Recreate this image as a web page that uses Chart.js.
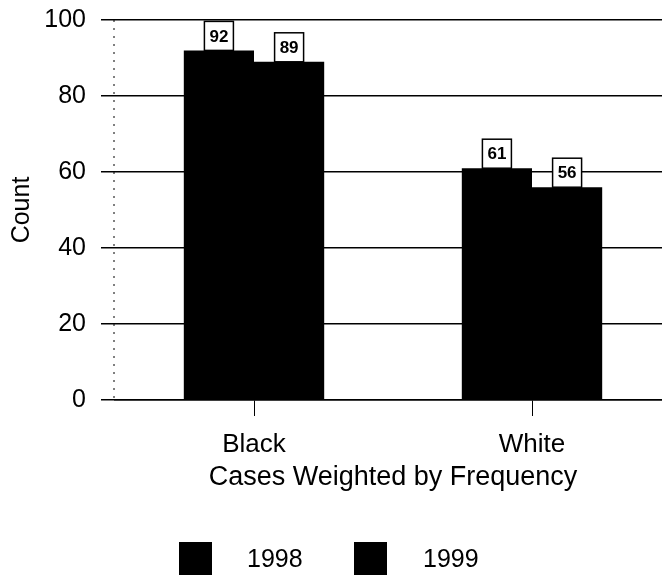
<!DOCTYPE html>
<html lang="en">
<head>
    <meta charset="UTF-8">
    <title>Count by Race</title>
    <script src="https://cdn.jsdelivr.net/npm/chart.js"></script>
    <style>
        html, body { margin: 0; padding: 0; background: #fff; overflow: hidden; }
        #wrap { position: relative; width: 680px; height: 576px; }
        .legend-box { position: absolute; width: 33px; height: 33px; background: #000; top: 542px; }
        .legend-text { position: absolute; top: 544px; line-height: 33px; font: 25px 'Liberation Sans', Arial, sans-serif; color: #000; }
    </style>
</head>
<body>
    <div id="wrap">
        <canvas id="myChart" width="680" height="576"></canvas>
        <div class="legend-box" style="left:179px"></div>
        <span class="legend-text" style="left:247px">1998</span>
        <div class="legend-box" style="left:354px"></div>
        <span class="legend-text" style="left:423px">1999</span>
    </div>

    <script>
        // Chart data
        const categories = ['Black', 'White'];
        const seriesNames = ['1998', '1999'];
        const counts1998 = [92, 61];
        const counts1999 = [89, 56];
        const yTicks = [0, 20, 40, 60, 80, 100];

        const fontFamily = "'Liberation Sans', Arial, sans-serif";

        // Dotted vertical axis line at the left edge of the plot
        const dottedAxis = {
            id: 'dottedAxis',
            beforeDatasetsDraw(chart) {
                const { ctx, chartArea } = chart;
                ctx.save();
                ctx.strokeStyle = '#000';
                ctx.lineWidth = 1;
                ctx.setLineDash([2, 6]);
                ctx.beginPath();
                ctx.moveTo(chartArea.left - 1, chartArea.top);
                ctx.lineTo(chartArea.left - 1, chartArea.bottom);
                ctx.stroke();
                ctx.restore();
            }
        };

        // Boxed value labels above each bar
        const boxedLabels = {
            id: 'boxedLabels',
            afterDatasetsDraw(chart) {
                const ctx = chart.ctx;
                ctx.save();
                chart.data.datasets.forEach((ds, i) => {
                    const meta = chart.getDatasetMeta(i);
                    meta.data.forEach((bar, j) => {
                        const w = 29, h = 29;
                        const x = bar.x - w / 2;
                        const y = bar.y - h;
                        ctx.fillStyle = '#fff';
                        ctx.fillRect(x, y, w, h);
                        ctx.strokeStyle = '#000';
                        ctx.lineWidth = 1.5;
                        ctx.strokeRect(x, y, w, h);
                        ctx.fillStyle = '#000';
                        ctx.font = 'bold 17px ' + fontFamily;
                        ctx.textAlign = 'center';
                        ctx.textBaseline = 'middle';
                        ctx.fillText(String(ds.data[j]), bar.x, y + h / 2 + 1);
                    });
                });
                ctx.restore();
            }
        };

        const ctx = document.getElementById('myChart').getContext('2d');
        const myChart = new Chart(ctx, {
            type: 'bar',
            data: {
                labels: categories,
                datasets: [
                    { label: seriesNames[0], data: counts1998, backgroundColor: '#000', borderWidth: 0 },
                    { label: seriesNames[1], data: counts1999, backgroundColor: '#000', borderWidth: 0 }
                ]
            },
            options: {
                responsive: false,
                animation: false,
                categoryPercentage: 0.505,
                barPercentage: 1.0,
                layout: { padding: { top: 20, right: 9, bottom: 84, left: 0 } },
                plugins: {
                    legend: { display: false },
                    tooltip: { enabled: false }
                },
                scales: {
                    x: {
                        afterFit: (scale) => { scale.height = 92; },
                        grid: { drawOnChartArea: false, offset: false, tickLength: 16, color: '#000', lineWidth: 1 },
                        border: { display: true, color: '#000', width: 1.5 },
                        ticks: { color: '#000', padding: 13, font: { family: fontFamily, size: 26 } },
                        title: {
                            display: true,
                            text: 'Cases Weighted by Frequency',
                            color: '#000',
                            font: { family: fontFamily, size: 27 },
                            padding: { top: 4, bottom: -2 }
                        }
                    },
                    y: {
                        min: 0,
                        max: 100,
                        afterFit: (scale) => {
                            scale.width = 115;
                            scale.paddingTop = 0;
                            scale.paddingBottom = 0;
                        },
                        afterBuildTicks: (scale) => { scale.ticks = yTicks.map(v => ({ value: v })); },
                        grid: { color: '#000', lineWidth: 1.5, tickLength: 14, tickColor: '#000' },
                        border: { display: false },
                        ticks: { color: '#000', padding: 15, font: { family: fontFamily, size: 25 } },
                        title: {
                            display: true,
                            text: 'Count',
                            color: '#000',
                            font: { family: fontFamily, size: 25 },
                            padding: { top: 7, bottom: 7 }
                        }
                    }
                }
            },
            plugins: [dottedAxis, boxedLabels]
        });
    </script>
</body>
</html>
